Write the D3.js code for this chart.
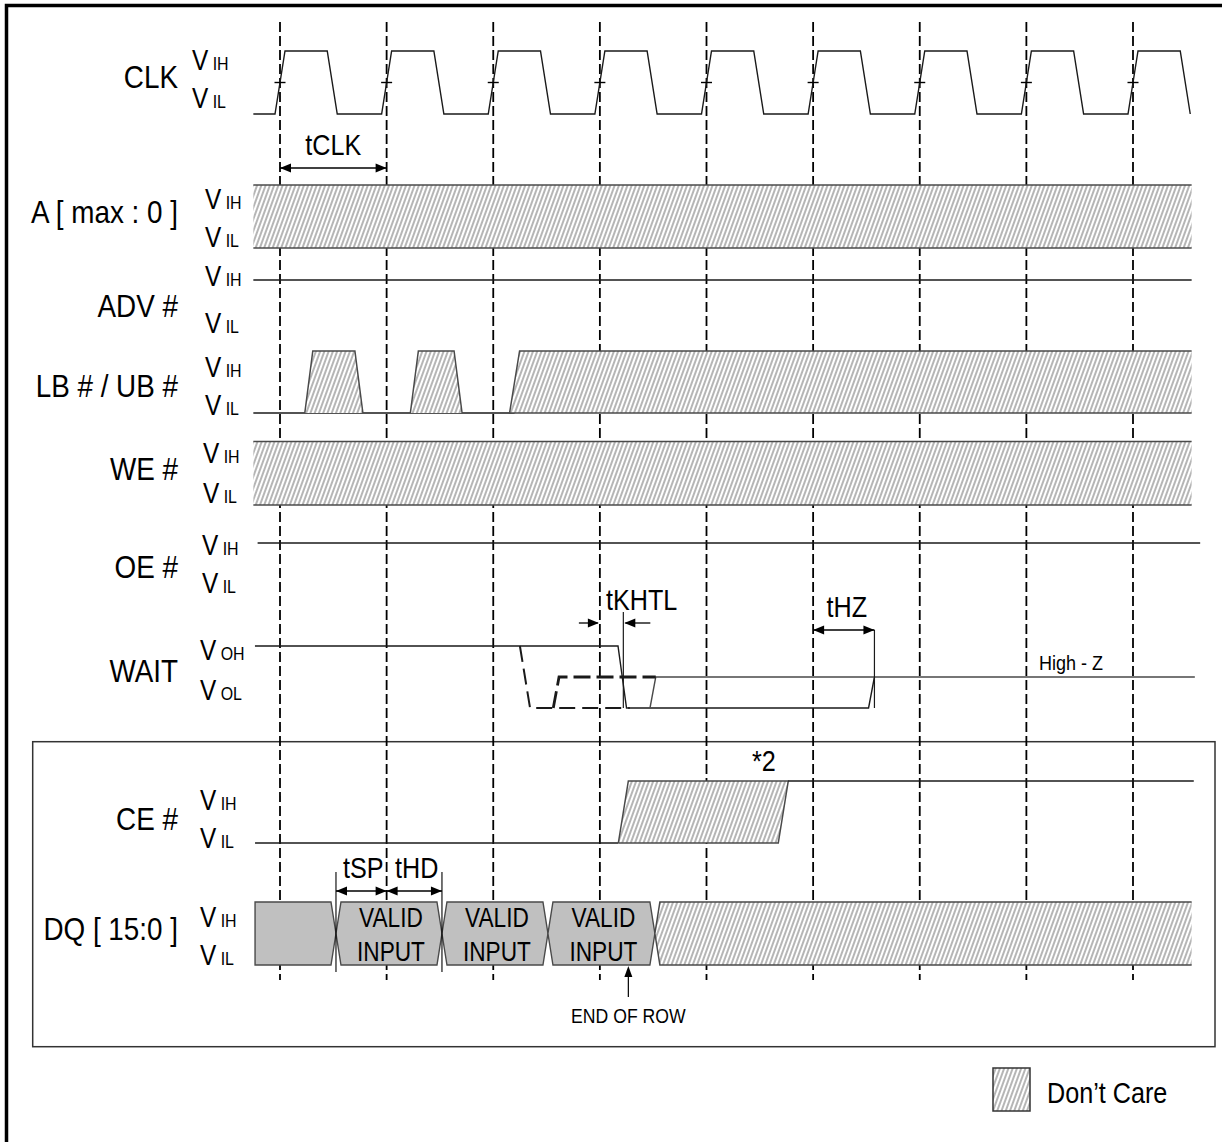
<!DOCTYPE html>
<html>
<head>
<meta charset="utf-8">
<script src="https://cdn.jsdelivr.net/npm/d3@7"></script>
<style>
  body { margin: 0; background: #fff; }
  text { font-family: 'Liberation Sans', Arial, sans-serif; fill: #000; }
</style>
</head>
<body>
<div id="chart"></div>
<script>
// TIMING DIAGRAM - synchronous burst write, end of row

// DATA (times are in clock cycles, 0 = first rising CLK edge)
const signalNames = ['CLK', 'A [ max : 0 ]', 'ADV #', 'LB # / UB #', 'WE #', 'OE #', 'WAIT', 'CE #', 'DQ [ 15:0 ]'];
const levelNames = [['IH', 'IL'], ['IH', 'IL'], ['IH', 'IL'], ['IH', 'IL'], ['IH', 'IL'], ['IH', 'IL'], ['OH', 'OL'], ['IH', 'IL'], ['IH', 'IL']];

const clkRise = [0, 1, 2, 3, 4, 5, 6, 7, 8];
const clkFall = [0.49, 1.49, 2.49, 3.49, 4.49, 5.49, 6.49, 7.49, 8.49];
const traceSpan = [-0.25, 8.55];

const lbPulses = [[0.27, 0.74], [1.26, 1.67]];
const lbDontCareFrom = 2.2;

// WAIT: [time, level] (1 = VOH, 0 = VOL, 0.5 = High-Z)
const waitSolid = [
  [[-0.235, 1], [3.17, 1], [3.25, 0], [5.52, 0], [5.575, 0.5]],
  [[3.47, 0], [3.524, 0.5], [8.58, 0.5]],
];
const waitDashed = [
  [[2.25, 1], [2.345, 0], [3.28, 0]],
  [[2.563, 0], [2.617, 0.5], [3.524, 0.5]],
];
const tKHTL = [3.0, 3.22];
const tHZ = [5.0, 5.575];

const ceDontCare = [3.22, 4.72];
const ceSpan = [-0.234, 8.57];

const dqStart = -0.234;
const dqCross = [0.525, 1.519, 2.513, 3.516];
const dqValid = [1, 2, 3]; // segments holding valid input
const dqText = ['VALID', 'INPUT'];
const endOfRow = 3.267;

const tCLK = [0, 1];
const tSP = [0.525, 1];
const tHD = [1, 1.519];

// LAYOUT
const width = 1222;
const height = 1142;
const rows = [
  { hi: 51, lo: 114, name: 88, vh: 70, vl: 108, vx: 192 },
  { hi: 185, lo: 248, name: 223, vh: 209, vl: 247, vx: 205 },
  { hi: 280, lo: 340, name: 317, vh: 286, vl: 333, vx: 205 },
  { hi: 351, lo: 413, name: 397, vh: 377, vl: 415, vx: 205 },
  { hi: 441.5, lo: 505, name: 480, vh: 463, vl: 503, vx: 203 },
  { hi: 543, lo: 600, name: 578, vh: 555, vl: 593, vx: 202 },
  { hi: 646, lo: 708, name: 682, vh: 660, vl: 700, vx: 200 },
  { hi: 781, lo: 843, name: 830, vh: 810, vl: 848, vx: 200 },
  { hi: 902, lo: 965, name: 940, vh: 927, vl: 965, vx: 200 },
];
const nameRight = 178;
const ink = '#1a1a1a';
const gray = '#4a4a4a';

let xScale = d3.scaleLinear().domain([0, 8]).range([280, 1133]);

const svg = d3
  .select('#chart')
  .append('svg')
  .attr('width', width)
  .attr('height', height)
  .style('display', 'block');

const defs = svg.append('defs');
const hatch = defs
  .append('pattern')
  .attr('id', 'hatch')
  .attr('width', 4)
  .attr('height', 4)
  .attr('patternUnits', 'userSpaceOnUse')
  .attr('patternTransform', 'rotate(20)');
hatch.append('rect').attr('width', 4).attr('height', 4).attr('fill', '#fff');
hatch
  .append('line')
  .attr('x1', 1).attr('y1', 0).attr('x2', 1).attr('y2', 4)
  .attr('stroke', '#5a5a5a')
  .attr('stroke-width', 0.9);

svg.append('rect').attr('width', width).attr('height', height).attr('fill', '#fff');

// helpers
function yOf(r, lvl) {
  return d3.scaleLinear().domain([0, 1]).range([rows[r].lo, rows[r].hi])(lvl);
}
function toPx(r, list) {
  // list of [t, level, dx]
  return list.map(([t, l, dx = 0]) => [xScale(t) + dx, yOf(r, l)]);
}
const line = d3.line();

function narrowText(g, x, y, str, size, anchor, sx) {
  return g
    .append('text')
    .attr('transform', `translate(${x},${y}) scale(${sx || 0.84},1)`)
    .attr('font-size', size)
    .attr('text-anchor', anchor || 'start')
    .text(str);
}

function trace(g, pts, opts = {}) {
  return g
    .append('path')
    .attr('d', line(pts))
    .attr('fill', 'none')
    .attr('stroke', opts.stroke || ink)
    .attr('stroke-width', opts.sw || 1.4)
    .attr('stroke-dasharray', opts.dash || null);
}

function hatchArea(g, pts, outline) {
  g.append('path').attr('d', line(pts) + 'Z').attr('fill', 'url(#hatch)');
  if (outline) trace(g, outline, { stroke: gray, sw: 1.5 });
}

function arrowHead(g, x, y, dir) {
  // dir: 1 = pointing right, -1 = pointing left, -2 = pointing up
  let p;
  if (dir === -2) p = [[x, y], [x - 4, y + 11], [x + 4, y + 11]];
  else p = [[x, y], [x - dir * 11, y - 4.5], [x - dir * 11, y + 4.5]];
  g.append('path').attr('d', line(p) + 'Z').attr('fill', '#000');
}

function dimArrow(g, t0, t1, y) {
  const x0 = xScale(t0);
  const x1 = xScale(t1);
  g.append('line')
    .attr('x1', x0).attr('x2', x1).attr('y1', y).attr('y2', y)
    .attr('stroke', '#000').attr('stroke-width', 1.5);
  arrowHead(g, x0, y, -1);
  arrowHead(g, x1, y, 1);
}

// frames
svg.append('rect')
  .attr('x', 6.5).attr('y', 5.5).attr('width', 1260).attr('height', 1180)
  .attr('fill', 'none').attr('stroke', '#000').attr('stroke-width', 3.5);
svg.append('rect')
  .attr('x', 32.7).attr('y', 741.7).attr('width', 1182.3).attr('height', 305)
  .attr('fill', 'none').attr('stroke', '#333').attr('stroke-width', 1.5);

// clock edge guides
svg.append('g')
  .selectAll('line')
  .data(clkRise)
  .join('line')
  .attr('x1', d => xScale(d)).attr('x2', d => xScale(d))
  .attr('y1', 22).attr('y2', 980)
  .attr('stroke', '#000')
  .attr('stroke-width', 1.8)
  .attr('stroke-dasharray', '10,4');

// labels
const labels = svg.append('g');
signalNames.forEach((name, i) => {
  narrowText(labels, nameRight, rows[i].name, name, 32, 'end', 0.87);
  [[rows[i].vh, levelNames[i][0]], [rows[i].vl, levelNames[i][1]]].forEach(([yy, sub]) => {
    const t = labels
      .append('text')
      .attr('transform', `translate(${rows[i].vx},${yy}) scale(0.84,1)`);
    t.append('tspan').attr('font-size', 29).text('V');
    t.append('tspan').attr('font-size', 19).text(' ' + sub);
  });
});

const waves = svg.append('g');

// CLK
let clkPts = [[traceSpan[0], 0]];
clkRise.forEach((r, i) => {
  clkPts.push([r, 0, -5], [r, 1, 5], [clkFall[i], 1, -5], [clkFall[i], 0, 5]);
});
trace(waves, toPx(0, clkPts));
clkRise.forEach(r => {
  const y = yOf(0, 0.5);
  waves.append('line')
    .attr('x1', xScale(r) - 5.5).attr('x2', xScale(r) + 5.5)
    .attr('y1', y).attr('y2', y)
    .attr('stroke', '#000').attr('stroke-width', 1.4);
});
narrowText(waves, d3.mean(tCLK.map(xScale)), 155, 'tCLK', 30, 'middle');
dimArrow(waves, tCLK[0], tCLK[1], 168);

// A and WE : don't care bands
[1, 4].forEach(r => {
  const s = traceSpan;
  hatchArea(waves, toPx(r, [[s[0], 0], [s[0], 1], [s[1], 1], [s[1], 0]]));
  trace(waves, toPx(r, [[s[0], 1], [s[1], 1]]), { stroke: gray, sw: 1.5 });
  trace(waves, toPx(r, [[s[0], 0], [s[1], 0]]), { stroke: gray, sw: 1.5 });
});

// ADV#
trace(waves, toPx(2, [[traceSpan[0], 1], [traceSpan[1], 1]]));

// LB#/UB#
trace(waves, toPx(3, [[traceSpan[0], 0], [lbDontCareFrom, 0]]));
lbPulses.forEach(([a, b]) => {
  const p = toPx(3, [[a, 0, -4], [a, 1, 4], [b, 1, -4], [b, 0, 4]]);
  hatchArea(waves, p, p);
});
{
  const c = lbDontCareFrom;
  const e = traceSpan[1];
  const p = toPx(3, [[e, 0], [c, 0, -5], [c, 1, 5], [e, 1]]);
  hatchArea(waves, p, p);
}

// OE#
trace(waves, toPx(5, [[-0.21, 1], [8.63, 1]]));

// WAIT
waitSolid.forEach((w, i) => trace(waves, toPx(6, w), { stroke: i ? gray : ink, sw: 1.4 }));
trace(waves, toPx(6, waitDashed[0]), { sw: 2, dash: '16,7' });
trace(waves, toPx(6, waitDashed[1]), { sw: 2.8, dash: '17,6' });
// timing references
trace(waves, [[xScale(tKHTL[1]), 612], [xScale(tKHTL[1]), 708]], { sw: 1.2 });
trace(waves, [[xScale(tHZ[1]), 630], [xScale(tHZ[1]), 708]], { sw: 1.2 });
// tKHTL inward arrows
trace(waves, [[xScale(tKHTL[0]) - 21, 623], [xScale(tKHTL[0]) - 2, 623]], { sw: 1.3, stroke: '#000' });
arrowHead(waves, xScale(tKHTL[0]) - 1, 623, 1);
trace(waves, [[xScale(tKHTL[1]) + 27, 623], [xScale(tKHTL[1]) + 2, 623]], { sw: 1.3, stroke: '#000' });
arrowHead(waves, xScale(tKHTL[1]) + 1, 623, -1);
narrowText(waves, 606, 610, 'tKHTL', 30, 'start');
dimArrow(waves, tHZ[0], tHZ[1], 630);
narrowText(waves, d3.mean(tHZ.map(xScale)) + 3, 617, 'tHZ', 30, 'middle');
narrowText(waves, 1071, 670, 'High - Z', 20, 'middle', 0.9);

// CE#
trace(waves, toPx(7, [[ceSpan[0], 0], [ceDontCare[0], 0, -5]]));
{
  const [a, b] = ceDontCare;
  const p = toPx(7, [[a, 0, -5], [a, 1, 5], [b, 1, 5], [b, 0, -5]]);
  hatchArea(waves, p, p.concat([p[0]]));
}
trace(waves, toPx(7, [[ceDontCare[1], 1, 5], [ceSpan[1], 1]]));
narrowText(waves, 752, 771, '*2', 30, 'start');

// DQ[15:0]
{
  const bounds = [dqStart].concat(dqCross);
  const taper = 5;
  const top = rows[8].hi;
  const bot = rows[8].lo;
  const mid = (top + bot) / 2;
  for (let i = 0; i < bounds.length - 1; i++) {
    const x0 = xScale(bounds[i]);
    const x1 = xScale(bounds[i + 1]);
    const left = i === 0 ? [[x0, bot], [x0, top]] : [[x0 + taper, bot], [x0, mid], [x0 + taper, top]];
    const right = [[x1 - taper, top], [x1, mid], [x1 - taper, bot]];
    const p = left.concat(right);
    waves.append('path')
      .attr('d', line(p) + 'Z')
      .attr('fill', '#c0c0c0')
      .attr('stroke', gray)
      .attr('stroke-width', 1.4);
    if (dqValid.includes(i)) {
      const cx = (x0 + x1) / 2 + 2;
      narrowText(waves, cx, 927, dqText[0], 27, 'middle');
      narrowText(waves, cx, 961, dqText[1], 27, 'middle');
    }
  }
  const xs = xScale(dqCross[dqCross.length - 1]);
  const xe = xScale(traceSpan[1]);
  const p = [[xe, bot], [xs + taper, bot], [xs, mid], [xs + taper, top], [xe, top]];
  hatchArea(waves, p, p);

  // setup / hold
  [tSP[0], tHD[1]].forEach(t => {
    trace(waves, [[xScale(t), 872], [xScale(t), 972]], { sw: 1.1, stroke: '#000' });
  });
  dimArrow(waves, tSP[0], tSP[1], 891);
  dimArrow(waves, tHD[0], tHD[1], 891);
  narrowText(waves, 343, 878, 'tSP', 30, 'start');
  narrowText(waves, 395, 878, 'tHD', 30, 'start');

  // end of row marker
  const xr = xScale(endOfRow);
  trace(waves, [[xr, 997], [xr, 970]], { sw: 1.2, stroke: '#000' });
  arrowHead(waves, xr, 966, -2);
  narrowText(waves, xr, 1023, 'END OF ROW', 21, 'middle');
}

// legend
const legend = svg.append('g');
legend.append('rect')
  .attr('x', 993).attr('y', 1068).attr('width', 37).attr('height', 43)
  .attr('fill', 'url(#hatch)').attr('stroke', '#333').attr('stroke-width', 1.5);
narrowText(legend, 1047, 1103, 'Don’t Care', 30, 'start');
</script>
</body>
</html>
